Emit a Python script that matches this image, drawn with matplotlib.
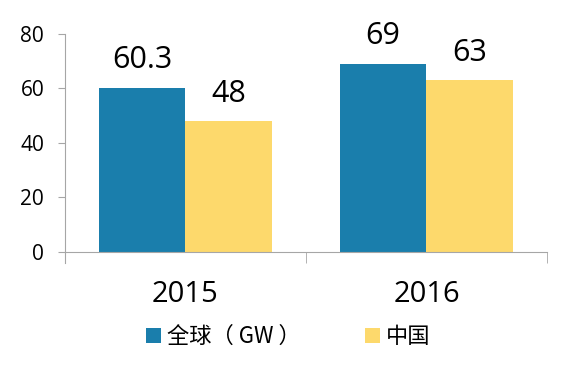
import matplotlib.pyplot as plt
import numpy as np

plt.rcParams['font.family'] = ['Open Sans', 'Noto Sans CJK SC', 'DejaVu Sans']

years = ['2015', '2016']
world = [60.3, 69]
china = [48, 63]
labels = ['全球（ GW ）', '中国']

blue = '#1a7eac'
yellow = '#fdd96c'
axis_c = '#a6a6a6'

fig = plt.figure(figsize=(5.68, 3.72), dpi=100)
ax = fig.add_axes([0.1144, 0.3226, 0.8486, 0.586])

x = np.arange(len(years))
w = 0.36
b1 = ax.bar(x - w / 2, world, w, color=blue, label=labels[0])
b2 = ax.bar(x + w / 2, china, w, color=yellow, label=labels[1])

for bars, vals in ((b1, world), (b2, china)):
    for r, v in zip(bars, vals):
        ax.annotate(f'{v:g}', (r.get_x() + r.get_width() / 2, v),
                    xytext=(0, 9), textcoords='offset points',
                    ha='center', va='bottom', fontsize=22)

ax.set_xlim(-0.5, 1.5)
ax.set_ylim(0, 80)
ax.set_yticks([0, 20, 40, 60, 80])
ax.set_xticks(x)
ax.set_xticklabels(years, fontsize=21)
ax.tick_params(axis='y', labelsize=15, color=axis_c, length=5, pad=10)
ax.tick_params(axis='x', length=0, pad=20)
# category separators as minor ticks
ax.set_xticks([-0.5, 0.5, 1.5], minor=True)
ax.tick_params(axis='x', which='minor', color=axis_c, length=8)

for s in ['top', 'right']:
    ax.spines[s].set_visible(False)
ax.spines['left'].set_color(axis_c)
ax.spines['bottom'].set_color(axis_c)
ax.spines['left'].set_bounds(-4, 80)
ax.spines['left'].set_clip_on(False)

leg = fig.legend(handles=[b1, b2], loc='center', bbox_to_anchor=(0.507, 0.095),
                 ncol=2, frameon=False, handlelength=0.68,
                 handleheight=0.68, handletextpad=0.25, columnspacing=2.9,
                 prop={'family': ['Noto Sans CJK SC', 'DejaVu Sans'], 'size': 16})

fig.savefig('out.png', dpi=100)
